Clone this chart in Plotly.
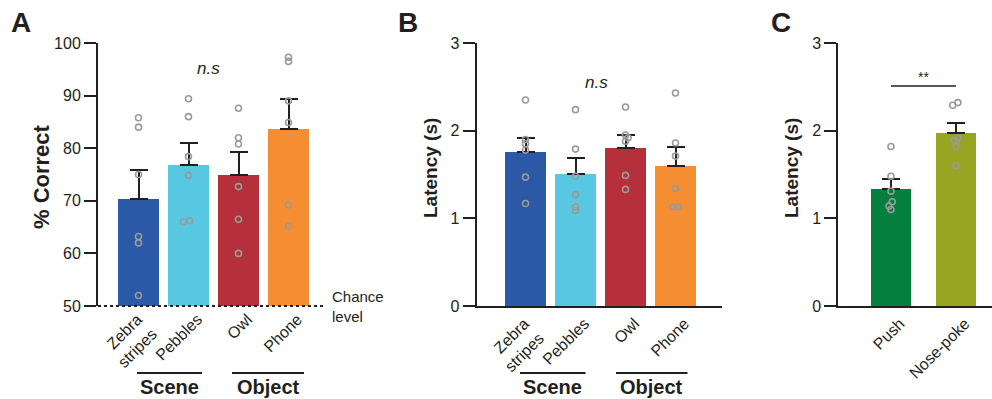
import plotly.graph_objects as go

# ---------------- data ----------------
A_CATS = ["Zebra<br>stripes", "Pebbles", "Owl", "Phone"]
A_MEAN = [70.3, 76.8, 74.9, 83.6]
A_SEM = [5.6, 4.1, 4.3, 5.7]
A_POINTS = [
    [85.8, 84.0, 75.0, 63.2, 62.0, 52.0],
    [89.4, 86.0, 78.4, 74.8, 66.0, 66.2],
    [87.6, 82.0, 80.8, 72.7, 66.5, 60.0],
    [97.3, 96.5, 89.0, 84.9, 69.2, 65.2],
]
A_JITTER = [
    [0, 0, 0, 0, 0, 0],
    [0, 0, 0, 0, -0.1, 0.02],
    [0, 0, 0, 0, 0, 0],
    [0, 0, 0, 0, 0, 0],
]

B_CATS = ["Zebra<br>stripes", "Pebbles", "Owl", "Phone"]
B_MEAN = [1.756, 1.505, 1.80, 1.60]
B_SEM = [0.165, 0.185, 0.145, 0.21]
B_POINTS = [
    [2.35, 1.90, 1.85, 1.78, 1.47, 1.17],
    [2.24, 1.79, 1.48, 1.27, 1.13, 1.09],
    [2.27, 1.95, 1.92, 1.88, 1.49, 1.33],
    [2.43, 1.86, 1.71, 1.34, 1.13, 1.13],
]
B_JITTER = [
    [0, 0, 0, 0, 0, 0],
    [0, 0, 0, 0, 0, 0],
    [0, 0, 0.05, 0, 0, 0],
    [0, 0, 0, 0, -0.05, 0.05],
]

C_CATS = ["Push", "Nose-poke"]
C_MEAN = [1.337, 1.977]
C_SEM = [0.11, 0.115]
C_POINTS = [
    [1.82, 1.48, 1.31, 1.19, 1.14, 1.10],
    [2.32, 2.29, 1.92, 1.89, 1.82, 1.60],
]
C_JITTER = [
    [0, 0, 0, 0.02, -0.03, 0],
    [0.03, -0.05, 0.03, -0.03, 0, 0],
]

GROUPS = ["Scene", "Object"]

# ---------------- styles ----------------
COL_A = ["#2b58a7", "#58c7e1", "#b5303a", "#f58e33"]
COL_C = ["#057f3e", "#97a522"]
PT = "#9a9a9a"
INK = "#231f20"
FONT = "Liberation Sans, Arial, sans-serif"

W, H = 992, 399
def px(x):
    return x / W
def py(y):
    return 1 - y / H

Y_DOM = [py(306), py(43)]
DOM_A = [px(98), px(323)]
DOM_B = [px(476.7), px(722)]
DOM_C = [px(838.3), 1.0]
RNG_A = [-0.81, 3.69]
RNG_B = [-0.976, 3.93]
RNG_C = [-0.81, 1.554]
LABEL_SHIFT = 9            # px, tick labels shifted along x
TWO_LINE_NUDGE = -0.2      # category units, pulls the two-line label back

fig = go.Figure()

def add_panel(xa, ya, cats, means, sems, points, jitter, colors, width):
    n = len(cats)
    fig.add_trace(go.Bar(
        x=list(range(n)), y=means, width=width, xaxis=xa, yaxis=ya,
        marker=dict(color=colors, line=dict(width=0)),
        error_y=dict(type="data", symmetric=False, array=sems,
                     arrayminus=[0] * n, color=INK, thickness=2, width=9),
        showlegend=False, hoverinfo="skip"))
    xs, ys = [], []
    for i, vals in enumerate(points):
        for v, j in zip(vals, jitter[i]):
            xs.append(i + j)
            ys.append(v)
    fig.add_trace(go.Scatter(
        x=xs, y=ys, mode="markers", xaxis=xa, yaxis=ya, cliponaxis=False,
        marker=dict(symbol="circle-open", size=6, color=PT,
                    line=dict(width=1.6, color=PT)),
        showlegend=False, hoverinfo="skip"))

add_panel("x", "y", A_CATS, A_MEAN, A_SEM, A_POINTS, A_JITTER, COL_A, 0.82)
add_panel("x2", "y2", B_CATS, B_MEAN, B_SEM, B_POINTS, B_JITTER, COL_A, 0.82)
add_panel("x3", "y3", C_CATS, C_MEAN, C_SEM, C_POINTS, C_JITTER, COL_C, 0.615)

xtickfont = dict(family=FONT, size=16, color=INK)
ytickfont = dict(family=FONT, size=16, color=INK)

def xax(domain, rng, anchor, cats, showline):
    tv = [i + (TWO_LINE_NUDGE if "<br>" in c else 0) for i, c in enumerate(cats)]
    return dict(domain=domain, range=rng, anchor=anchor, showgrid=False,
                zeroline=False, showline=showline, linecolor=INK, linewidth=2,
                ticks="", tickvals=tv, ticktext=cats,
                tickangle=-45, tickfont=xtickfont, fixedrange=True,
                ticklabelshift=LABEL_SHIFT, automargin=False)

def yax(rng, anchor, tickvals):
    return dict(domain=Y_DOM, range=rng, anchor=anchor, showgrid=False,
                zeroline=False, showline=True, linecolor=INK, linewidth=2,
                ticks="outside", ticklen=12, tickwidth=2, tickcolor=INK,
                tickvals=tickvals, tickfont=ytickfont, fixedrange=True,
                automargin=False)

fig.update_layout(
    width=W, height=H, margin=dict(l=0, r=0, t=0, b=0, autoexpand=False),
    paper_bgcolor="white", plot_bgcolor="white",
    font=dict(family=FONT, color=INK),
    xaxis=xax(DOM_A, RNG_A, "y", A_CATS, False),
    yaxis=yax([50, 100], "x", [50, 60, 70, 80, 90, 100]),
    xaxis2=xax(DOM_B, RNG_B, "y2", B_CATS, True),
    yaxis2=yax([0, 3], "x2", [0, 1, 2, 3]),
    xaxis3=xax(DOM_C, RNG_C, "y3", C_CATS, True),
    yaxis3=yax([0, 3], "x3", [0, 1, 2, 3]),
    bargap=0,
)

# chance-level dotted line (at the bottom of panel A's y axis, value 50)
fig.add_shape(type="line", xref="paper", yref="paper",
              x0=DOM_A[0], x1=DOM_A[1], y0=Y_DOM[0], y1=Y_DOM[0],
              line=dict(color=INK, width=2, dash="dot"))

ann = []
def text(x, y, t, size, bold=False, italic=False, xref="paper", yref="paper",
         xanchor="center", yanchor="middle", angle=0, align="center"):
    s = t
    if bold:
        s = "<b>" + s + "</b>"
    if italic:
        s = "<i>" + s + "</i>"
    ann.append(dict(x=x, y=y, xref=xref, yref=yref, text=s, showarrow=False,
                    xanchor=xanchor, yanchor=yanchor, textangle=angle,
                    align=align, font=dict(family=FONT, size=size, color=INK)))

# panel letters
text(px(21), py(22), "A", 28, bold=True)
text(px(408), py(22), "B", 28, bold=True)
text(px(781), py(22), "C", 28, bold=True)

# axis titles
text(px(42), py(177), "% Correct", 22, bold=True, angle=-90)
text(px(430), py(168), "Latency (s)", 19, bold=True, angle=-90)
text(px(791), py(168), "Latency (s)", 19, bold=True, angle=-90)

# n.s labels
text(1.4, 95.2, "n.s", 17, italic=True, xref="x", yref="y")
text(1.42, 2.55, "n.s", 17, italic=True, xref="x2", yref="y2")

# chance level text
text(px(330), py(306), "Chance<br>level", 15, xanchor="left", align="left")

# significance in C
fig.add_shape(type="line", xref="x3", yref="y3", x0=0, x1=1, y0=2.51, y1=2.51,
              line=dict(color=INK, width=1.5))
text(0.5, 2.61, "**", 14, xref="x3", yref="y3")

# group labels
for xr, spans in (("x", [(-0.03, 1.27), (1.87, 3.31)]),
                  ("x2", [(-0.11, 1.2), (1.81, 3.24)])):
    for g, (a, b) in zip(GROUPS, spans):
        fig.add_shape(type="line", xref=xr, yref="paper", x0=a, x1=b,
                      y0=py(373), y1=py(373), line=dict(color=INK, width=2))
        text((a + b) / 2, py(387), g, 20, bold=True, xref=xr)

fig.update_layout(annotations=ann)
fig.write_html("out.html",
               config={"displayModeBar": False},
               post_script="document.body.style.margin='0';"
                           "document.body.style.overflow='hidden';")
